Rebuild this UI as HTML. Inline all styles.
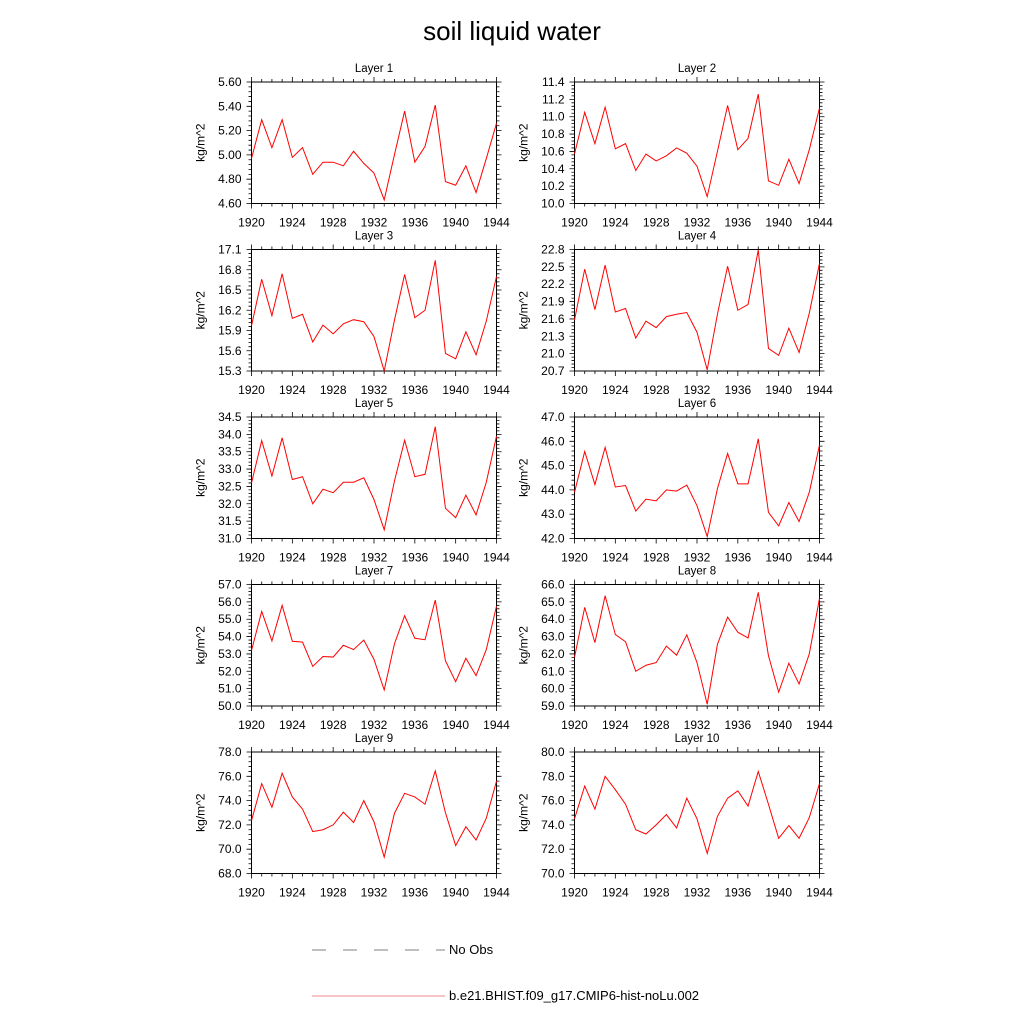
<!DOCTYPE html>
<html><head><meta charset="utf-8"><style>
html,body{margin:0;padding:0;background:#fff;width:1024px;height:1024px;overflow:hidden}
svg{font-family:"Liberation Sans",sans-serif}
</style></head><body>
<svg id="c" width="1024" height="1024" viewBox="0 0 1024 1024" xmlns="http://www.w3.org/2000/svg">
<text x="512" y="40" text-anchor="middle" font-size="26">soil liquid water</text>
<g>
<line x1="312" y1="950" x2="445" y2="950" stroke="#555" stroke-width="0.8" stroke-dasharray="14,17"/>
<text x="449" y="954" font-size="13">No Obs</text>
<line x1="312" y1="996" x2="445" y2="996" stroke="#e88" stroke-width="1"/>
<text x="449" y="1000" font-size="13">b.e21.BHIST.f09_g17.CMIP6-hist-noLu.002</text>
</g>
</svg>
<script>
const years=[1920,1921,1922,1923,1924,1925,1926,1927,1928,1929,1930,1931,1932,1933,1934,1935,1936,1937,1938,1939,1940,1941,1942,1943,1944];
const xTicks=[1920,1924,1928,1932,1936,1940,1944];
const layer1=[4.97,5.29,5.06,5.29,4.98,5.06,4.84,4.94,4.94,4.91,5.03,4.93,4.85,4.63,5.00,5.36,4.94,5.07,5.41,4.78,4.75,4.91,4.69,4.97,5.26];
const layer2=[10.57,11.05,10.69,11.11,10.63,10.69,10.38,10.57,10.49,10.55,10.64,10.58,10.43,10.08,10.60,11.13,10.62,10.75,11.26,10.26,10.21,10.51,10.23,10.62,11.10];
const layer3=[15.97,16.66,16.12,16.74,16.08,16.14,15.73,15.98,15.85,16.00,16.06,16.03,15.81,15.30,16.05,16.73,16.09,16.20,16.94,15.56,15.48,15.88,15.54,16.04,16.70];
const layer4=[21.58,22.46,21.76,22.53,21.72,21.78,21.27,21.56,21.45,21.64,21.68,21.71,21.37,20.72,21.68,22.51,21.75,21.85,22.79,21.09,20.97,21.44,21.02,21.70,22.56];
const layer5=[32.6,33.82,32.8,33.9,32.7,32.78,32.0,32.42,32.32,32.62,32.62,32.75,32.12,31.25,32.65,33.83,32.78,32.85,34.22,31.87,31.6,32.25,31.68,32.62,33.95];
const layer6=[43.9,45.58,44.22,45.75,44.12,44.18,43.13,43.62,43.55,44.0,43.95,44.2,43.35,42.08,44.05,45.5,44.25,44.25,46.1,43.08,42.52,43.48,42.7,43.9,45.85];
const layer7=[53.2,55.45,53.75,55.8,53.73,53.68,52.28,52.85,52.82,53.5,53.25,53.8,52.68,50.92,53.58,55.2,53.9,53.82,56.1,52.6,51.4,52.75,51.75,53.25,55.75];
const layer8=[61.8,64.68,62.65,65.35,63.12,62.7,61.0,61.35,61.5,62.45,61.93,63.1,61.5,59.1,62.55,64.12,63.25,62.92,65.55,61.9,59.8,61.47,60.27,62.0,65.2];
const layer9=[72.35,75.4,73.45,76.25,74.3,73.3,71.45,71.6,72.0,73.05,72.2,74.0,72.25,69.35,72.95,74.6,74.3,73.7,76.45,73.0,70.3,71.85,70.75,72.55,75.6];
const layer10=[74.5,77.2,75.3,78.0,76.9,75.7,73.6,73.25,74.0,74.85,73.75,76.2,74.5,71.65,74.7,76.2,76.8,75.55,78.4,75.7,72.9,73.95,72.9,74.6,77.4];
const yTicks1=["4.60","4.80","5.00","5.20","5.40","5.60"];
const yTicks2=["10.0","10.2","10.4","10.6","10.8","11.0","11.2","11.4"];
const yTicks3=["15.3","15.6","15.9","16.2","16.5","16.8","17.1"];
const yTicks4=["20.7","21.0","21.3","21.6","21.9","22.2","22.5","22.8"];
const yTicks5=["31.0","31.5","32.0","32.5","33.0","33.5","34.0","34.5"];
const yTicks6=["42.0","43.0","44.0","45.0","46.0","47.0"];
const yTicks7=["50.0","51.0","52.0","53.0","54.0","55.0","56.0","57.0"];
const yTicks8=["59.0","60.0","61.0","62.0","63.0","64.0","65.0","66.0"];
const yTicks9=["68.0","70.0","72.0","74.0","76.0","78.0"];
const yTicks10=["70.0","72.0","74.0","76.0","78.0","80.0"];
const series=[layer1,layer2,layer3,layer4,layer5,layer6,layer7,layer8,layer9,layer10];
const ticks=[yTicks1,yTicks2,yTicks3,yTicks4,yTicks5,yTicks6,yTicks7,yTicks8,yTicks9,yTicks10];
const NS="http://www.w3.org/2000/svg";
const svg=document.getElementById('c');
function mk(t,a,p){const e=document.createElementNS(NS,t);for(const k in a)e.setAttribute(k,a[k]);p.appendChild(e);return e;}
const tops=[82,249.5,417,584.5,752];const H=121.5;const lefts=[251.5,574.5];const W=245;
for(let i=0;i<10;i++){
  const L=lefts[i%2],T=tops[Math.floor(i/2)],B=T+H,R=L+W;
  const tk=ticks[i].map(Number);const ymin=tk[0],ymax=tk[tk.length-1];
  const xs=y=>L+(y-1920)/(1944-1920)*W;
  const ys=v=>B-(v-ymin)/(ymax-ymin)*H;
  const g=mk('g',{},svg);
  
  
  const tt=mk('text',{x:(L+R)/2,y:T-10,'text-anchor':'middle','font-size':11.5},g);tt.textContent='Layer '+(i+1);
  
  
  const yl=mk('text',{x:0,y:0,'text-anchor':'middle','font-size':12,transform:'translate('+(L-47)+','+(T+H/2)+') rotate(-90)'},g);yl.textContent='kg/m^2';
  
  
  let d='';
  for(let k=0;k<tk.length;k++){
    const y=ys(tk[k]);
    d+='M'+(L-5)+' '+y+'H'+L+'M'+R+' '+y+'H'+(R+5);
    const t=mk('text',{x:L-10,y:y+4,'text-anchor':'end','font-size':12},g);t.textContent=ticks[i][k];
    
    
    if(k<tk.length-1){for(let m=1;m<5;m++){const v=tk[k]+(tk[k+1]-tk[k])*m/5;const yy=ys(v);d+='M'+(L-3)+' '+yy+'H'+L+'M'+R+' '+yy+'H'+(R+3);}}
  }
  for(const yr of years){const x=xs(yr);const mj=xTicks.includes(yr);const len=mj?5:3;d+='M'+x+' '+B+'V'+(B+len)+'M'+x+' '+T+'V'+(T-len);}
  for(const yr of xTicks){const t=mk('text',{x:xs(yr),y:B+23,'text-anchor':'middle','font-size':12},g);t.textContent=yr;
    
    }
  const tp=mk('path',{d:d,stroke:'#000','stroke-width':0.8,fill:'none'},g);
  
  
  const fr=mk('rect',{x:L,y:T,width:W,height:H,fill:'none',stroke:'#000','stroke-width':1},g);
  
  
  const pts=series[i].map((v,j)=>xs(years[j])+','+ys(v)).join(' ');
  const pl=mk('polyline',{points:pts,fill:'none',stroke:'#f00','stroke-width':1},g);
  
  
}
</script>
</body></html>
